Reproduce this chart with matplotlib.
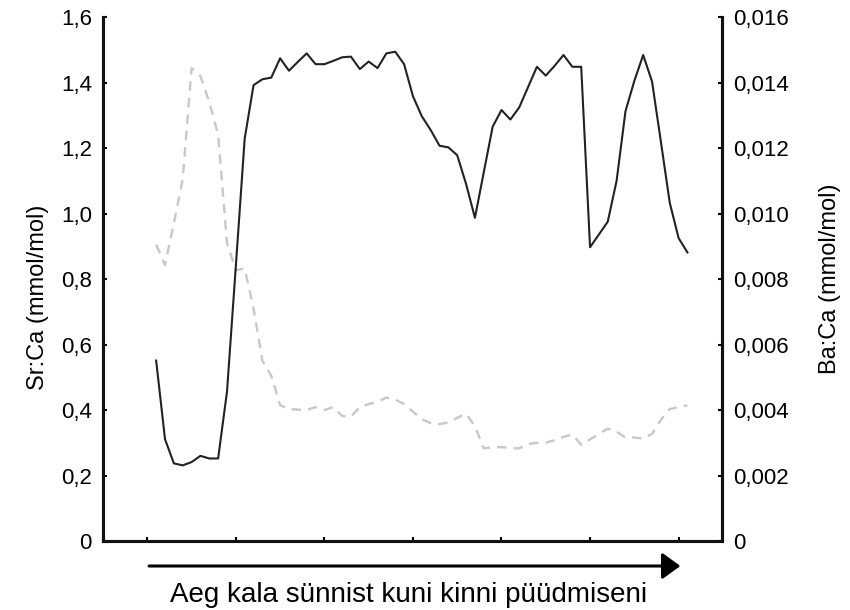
import numpy as np
import matplotlib
matplotlib.use("Agg")
import matplotlib.pyplot as plt
from matplotlib.ticker import FuncFormatter

plt.rcParams['font.family'] = ['Liberation Sans', 'DejaVu Sans']

# sample index along the otolith (time from hatching to capture)
idx = np.arange(1, 62)

# Sr:Ca (mmol/mol), left axis
sr_ca = [0.551, 0.311, 0.237, 0.231, 0.241, 0.260, 0.252, 0.252, 0.456, 0.840,
         1.229, 1.392, 1.410, 1.415, 1.474, 1.436, 1.463, 1.489, 1.456, 1.456,
         1.466, 1.477, 1.479, 1.441, 1.464, 1.444, 1.489, 1.494, 1.456, 1.358,
         1.297, 1.255, 1.207, 1.202, 1.178, 1.090, 0.987, 1.126, 1.265, 1.316,
         1.287, 1.324, 1.386, 1.448, 1.421, 1.451, 1.484, 1.448, 1.448, 0.897,
         0.936, 0.975, 1.100, 1.312, 1.405, 1.484, 1.403, 1.219, 1.033, 0.925,
         0.881]

# Ba:Ca (mmol/mol), right axis
ba_ca = [0.00905, 0.00843, 0.00970, 0.01105, 0.01444, 0.01420, 0.01340, 0.01240, 0.00910, 0.00827,
         0.00832, 0.00710, 0.00550, 0.00505, 0.00415, 0.00403, 0.00401, 0.00400, 0.00409, 0.00400,
         0.00409, 0.00382, 0.00380, 0.00409, 0.00418, 0.00425, 0.00438, 0.00432, 0.00418, 0.00395,
         0.00372, 0.00360, 0.00357, 0.00362, 0.00376, 0.00389, 0.00350, 0.00283, 0.00286, 0.00287,
         0.00283, 0.00283, 0.00296, 0.00300, 0.00300, 0.00308, 0.00318, 0.00325, 0.00294, 0.00310,
         0.00327, 0.00343, 0.00334, 0.00316, 0.00316, 0.00313, 0.00327, 0.00370, 0.00403, 0.00409,
         0.00414]

x_ticks = [0, 10, 20, 30, 40, 50, 60]
left_ticks = [0, 0.2, 0.4, 0.6, 0.8, 1.0, 1.2, 1.4, 1.6]
right_ticks = [0, 0.002, 0.004, 0.006, 0.008, 0.010, 0.012, 0.014, 0.016]


def comma_fmt(decimals):
    def f(v, pos):
        if abs(v) < 1e-12:
            return "0"
        return f"{v:.{decimals}f}".replace(".", ",")
    return FuncFormatter(f)


fig = plt.figure(figsize=(8.5, 6.1), dpi=100)
ax = fig.add_axes([0.1212, 0.1131, 0.7282, 0.859])
ax2 = ax.twinx()

ax.plot(idx, sr_ca, color="#222222", lw=1.5, zorder=3)
ax2.plot(idx, ba_ca, color="#c8c8c8", lw=1.7, dashes=(4, 3))
ax.set_zorder(ax2.get_zorder() + 1)
ax.patch.set_visible(False)

ax.set_xlim(-5, 64.9)
ax.set_ylim(0, 1.6)
ax2.set_ylim(0, 0.016)
ax.set_xticks(x_ticks)
ax.set_xticklabels([])
ax.set_yticks(left_ticks)
ax2.set_yticks(right_ticks)
ax.yaxis.set_major_formatter(comma_fmt(1))
ax2.yaxis.set_major_formatter(comma_fmt(3))

for a in (ax, ax2):
    a.spines["top"].set_visible(False)
    for s in ("left", "right", "bottom"):
        a.spines[s].set_linewidth(2.2)
        a.spines[s].set_color("#111111")
    a.tick_params(direction="in", length=3, width=1.5, labelsize=16, pad=8)

ax.set_ylabel("Sr:Ca (mmol/mol)", fontsize=17)
ax2.set_ylabel("Ba:Ca (mmol/mol)", fontsize=17)
ax.yaxis.set_label_coords(-0.087, 0.465)
ax2.yaxis.set_label_coords(1.157, 0.5)

# time arrow below the axis
ax.annotate("", xy=(60.2, -0.0477), xytext=(0.2, -0.0477),
            xycoords=("data", "axes fraction"), textcoords=("data", "axes fraction"),
            arrowprops=dict(arrowstyle="-|>,head_length=0.55,head_width=0.4",
                            mutation_scale=20, color="black", lw=2.2,
                            shrinkA=0, shrinkB=0),
            annotation_clip=False)
ax.text(29.5, -0.103, "Aeg kala sünnist kuni kinni püüdmiseni",
        transform=ax.get_xaxis_transform(), ha="center", va="center", fontsize=20)

fig.savefig("out.png", dpi=100)
